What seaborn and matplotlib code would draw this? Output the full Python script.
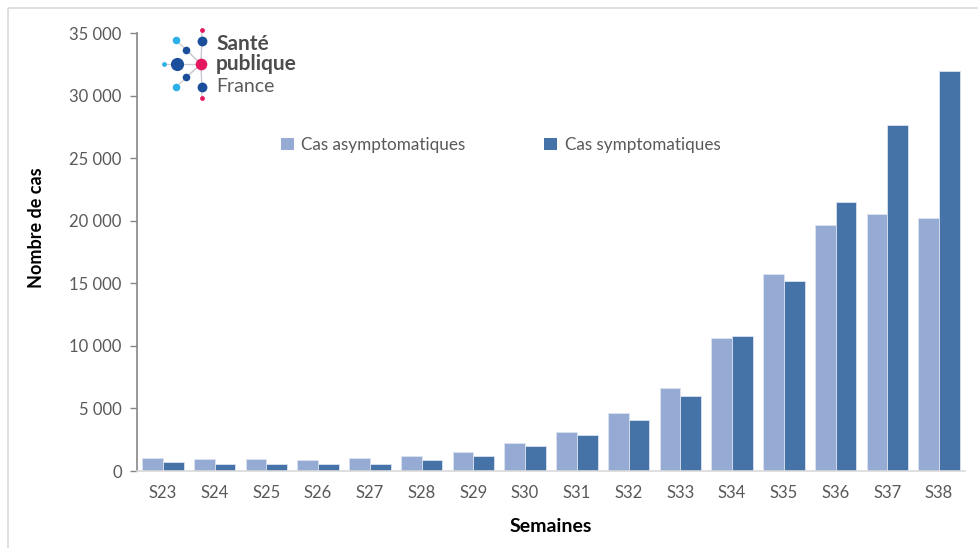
import pandas as pd
import seaborn as sns
import matplotlib.pyplot as plt
from matplotlib.patches import Rectangle, Patch

weeks = ["S23", "S24", "S25", "S26", "S27", "S28", "S29", "S30",
         "S31", "S32", "S33", "S34", "S35", "S36", "S37", "S38"]
asympto = [1060, 960, 960, 880, 1060, 1220, 1550, 2270,
           3150, 4640, 6640, 10630, 15750, 19660, 20540, 20220]
sympto = [700, 560, 560, 560, 560, 910, 1230, 2030,
          2870, 4080, 6000, 10790, 15190, 21500, 27630, 32000]
series = ["Cas asymptomatiques", "Cas symptomatiques"]
colors = ["#95ABD3", "#4673A7"]

df = pd.DataFrame({"semaine": weeks * 2,
                   "cas": asympto + sympto,
                   "type": [series[0]] * len(weeks) + [series[1]] * len(weeks)})

sns.set_theme(style="white")
plt.rcParams["font.family"] = ["Lato", "DejaVu Sans"]

W, H = 979, 548
fig = plt.figure(figsize=(W / 100, H / 100), dpi=100)
ax = fig.add_axes([137 / W, 1 - 471 / H, (965 - 137) / W, (471 - 33) / H])

sns.barplot(data=df, x="semaine", y="cas", hue="type", palette=colors, saturation=1,
            width=0.8, edgecolor="#DCE3F0", linewidth=0.6, ax=ax, legend=False)

ax.set_ylim(0, 35000)
ax.set_xlim(-0.5, len(weeks) - 0.5)
ax.set_yticks(range(0, 35001, 5000))
ax.set_yticklabels([f"{v:,}".replace(",", " ") for v in range(0, 35001, 5000)])
ax.tick_params(axis="y", length=5, width=1, color="#868686", labelsize=12,
               labelcolor="#595959", direction="out", left=True, pad=6)
ax.tick_params(axis="x", length=0, labelsize=12, labelcolor="#595959", pad=10)
for s in ["top", "right"]:
    ax.spines[s].set_visible(False)
ax.spines["left"].set_color("#868686")
ax.spines["left"].set_linewidth(1.2)
ax.spines["bottom"].set_color("#D9D9D9")
ax.spines["bottom"].set_linewidth(1.2)

ax.set_xlabel("Semaines", fontsize=14, fontweight="bold", color="black", labelpad=12)
ax.set_ylabel("Nombre de cas", fontsize=13, fontweight="bold", color="black")
ax.yaxis.set_label_coords((45 - 137) / (965 - 137), (471 - 228) / (471 - 33))

handles = [Patch(facecolor=c, edgecolor="none") for c in colors]
ax.legend(handles, series, ncol=2, frameon=False, fontsize=12.3,
          labelcolor="#595959", handlelength=0.75, handleheight=0.75,
          handletextpad=0.45, columnspacing=4.6, borderpad=0, borderaxespad=0,
          loc="center left", bbox_to_anchor=((281 - 137) / (965 - 137), (471 - 145) / (471 - 33)),
          bbox_transform=ax.transAxes)

# outer frame and logo
over = fig.add_axes([0, 0, 1, 1], zorder=-1)
over.set_xlim(0, W)
over.set_ylim(H, 0)
over.axis("off")
over.add_patch(Rectangle((8, 8), W, H, fill=False, edgecolor="#D9D9D9", linewidth=1.2))

logo = fig.add_axes([0, 0, 1, 1], zorder=5)
logo.set_xlim(0, W)
logo.set_ylim(H, 0)
logo.axis("off")
cx, cy = 201, 64
dots = [(177, 64, 90, "#1B4F9C"), (164, 64, 12, "#2DB1E6"), (202, 41, 50, "#1B4F9C"),
        (202, 30, 12, "#E5175F"), (202, 87, 50, "#1B4F9C"), (202, 98, 12, "#E5175F"),
        (186, 50, 30, "#1B4F9C"), (186, 77, 30, "#1B4F9C"), (176, 40, 30, "#2DB1E6"),
        (176, 87, 30, "#2DB1E6")]
for x, y, s, c in dots:
    logo.plot([cx, x], [cy, y], color="#C8C8D0", lw=0.8, zorder=1)
for x, y, s, c in dots:
    logo.scatter(x, y, s=s, color=c, zorder=2, linewidths=0)
logo.scatter(cx, cy, s=70, color="#E5175F", zorder=3, linewidths=0)
logo.text(216, 44, "Santé", fontsize=15, fontweight="bold", color="#4D4D4D", va="center")
logo.text(216, 64, "publique", fontsize=15, fontweight="bold", color="#4D4D4D", va="center")
logo.text(216, 86, "France", fontsize=14, color="#5A5A5A", va="center")

plt.savefig("out.png", dpi=100)
